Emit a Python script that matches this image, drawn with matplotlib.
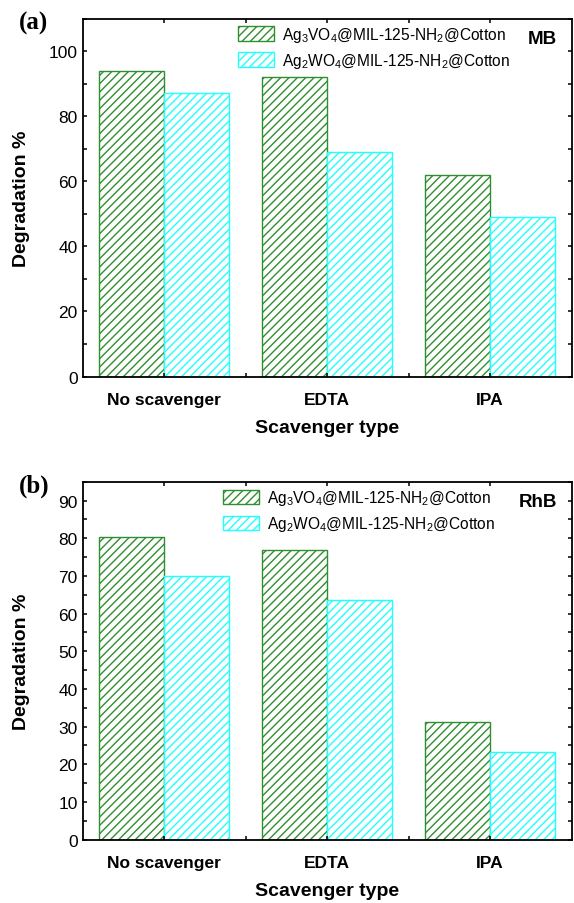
import numpy as np
import matplotlib
matplotlib.use('Agg')
import matplotlib.pyplot as plt
from matplotlib.patches import Patch
from matplotlib.ticker import MultipleLocator, FixedLocator

plt.rcParams['font.family'] = ['Liberation Sans', 'DejaVu Sans']
plt.rcParams['mathtext.default'] = 'regular'
plt.rcParams['hatch.linewidth'] = 1.0

categories = ['No scavenger', 'EDTA', 'IPA']
series_names = [r'Ag$_3$VO$_4$@MIL-125-NH$_2$@Cotton',
                r'Ag$_2$WO$_4$@MIL-125-NH$_2$@Cotton']
mb_vo4 = [94, 92, 62]
mb_wo4 = [87, 69, 49]
rhb_vo4 = [80.2, 77, 31.2]
rhb_wo4 = [70, 63.6, 23.3]

green = '#2f8f2f'
cyan = '#22ffff'
W, H = 574, 904
fig = plt.figure(figsize=(W / 100, H / 100), dpi=100)


def panel(rect, vo4, wo4, ymax, ystep, tag, dye, leg_x):
    ax = fig.add_axes(rect)
    x = np.arange(1, len(categories) + 1)
    w = 0.4
    ax.bar(x - w / 2, vo4, w, facecolor='white', edgecolor=green,
           hatch='////', linewidth=1.0)
    ax.bar(x + w / 2, wo4, w, facecolor='white', edgecolor=cyan,
           hatch='////', linewidth=1.0)
    ax.set_xlim(0.5, 3.5)
    ax.set_ylim(0, ymax)
    ax.set_xticks(x)
    ax.set_xticklabels(categories, fontweight='bold', fontsize=12)
    ax.xaxis.set_minor_locator(FixedLocator([1.5, 2.5]))
    ax.yaxis.set_major_locator(MultipleLocator(ystep))
    ax.yaxis.set_minor_locator(MultipleLocator(ystep / 2))
    ax.tick_params(axis='both', which='major', direction='out', length=5,
                   width=1.1, labelsize=12.5)
    ax.tick_params(axis='both', which='minor', direction='out', length=3,
                   width=1.1)
    ax.tick_params(axis='x', which='major', pad=11)
    ax.tick_params(right=True, which='both')
    ax.tick_params(top=True, which='both', direction='in', length=3)
    for s in ax.spines.values():
        s.set_linewidth(1.3)
    ax.set_xlabel('Scavenger type', fontweight='bold', fontsize=14, labelpad=9)
    ax.set_ylabel('Degradation %', fontweight='bold', fontsize=14)
    ax.yaxis.set_label_coords(-0.107, 0.5)
    handles = [Patch(facecolor='white', edgecolor=green, hatch='////', label=series_names[0]),
               Patch(facecolor='white', edgecolor=cyan, hatch='////', label=series_names[1])]
    ax.legend(handles=handles, loc='upper left', bbox_to_anchor=(leg_x, 0.982),
              frameon=False, fontsize=11.2, handlelength=2.3, handleheight=1.05,
              handletextpad=0.5, labelspacing=0.45, borderpad=0, borderaxespad=0)
    ax.text(0.97, 0.945, dye, transform=ax.transAxes, ha='right', va='center',
            fontsize=13.5, fontweight='bold')
    ax.text(-0.13, 0.99, tag, transform=ax.transAxes, ha='left', va='center',
            fontsize=18, fontweight='bold', family='Liberation Serif')
    return ax


l = 82.7 / W
wd = (571.5 - 82.7) / W
panel([l, 1 - 377.5 / H, wd, (377.5 - 19.5) / H], mb_vo4, mb_wo4, 110, 20,
      '(a)', 'MB', 0.318)
panel([l, 1 - 840.7 / H, wd, (840.7 - 482.7) / H], rhb_vo4, rhb_wo4, 95, 10,
      '(b)', 'RhB', 0.287)

fig.savefig('out.png', dpi=100)
